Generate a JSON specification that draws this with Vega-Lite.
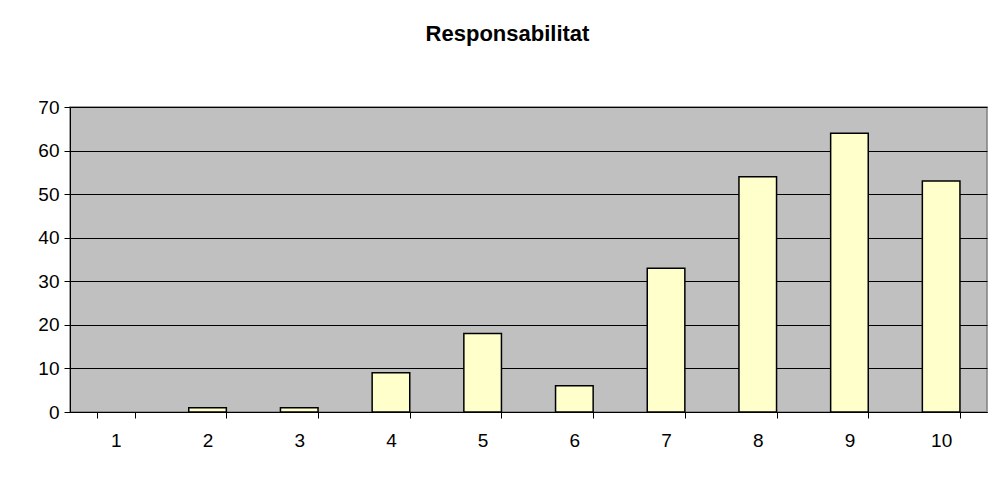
{
  "$schema": "https://vega.github.io/schema/vega-lite/v6.json",
  "width": 917,
  "height": 305,
  "autosize": {"type": "none"},
  "padding": {"left": 70, "top": 107, "right": 12, "bottom": 74},
  "background": "white",
  "title": {
    "text": "Responsabilitat",
    "font": "Liberation Sans",
    "fontSize": 22,
    "fontWeight": "bold",
    "color": "black",
    "anchor": "middle",
    "frame": "group",
    "dx": -21,
    "offset": 52
  },
  "data": {
    "values": [
      {"score": "1", "count": 0},
      {"score": "2", "count": 1},
      {"score": "3", "count": 1},
      {"score": "4", "count": 9},
      {"score": "5", "count": 18},
      {"score": "6", "count": 6},
      {"score": "7", "count": 33},
      {"score": "8", "count": 54},
      {"score": "9", "count": 64},
      {"score": "10", "count": 53}
    ]
  },
  "mark": {"type": "bar", "fill": "#FFFFCC", "stroke": "black", "strokeWidth": 1.5},
  "encoding": {
    "x": {
      "field": "score",
      "type": "ordinal",
      "sort": null,
      "scale": {"paddingInner": 0.59, "paddingOuter": 0.295},
      "axis": {
        "title": null,
        "labelAngle": 0,
        "labelFont": "Liberation Sans",
        "labelFontSize": 19,
        "labelColor": "black",
        "labelPadding": 13,
        "ticks": true,
        "tickBand": "extent",
        "tickSize": 6,
        "tickWidth": 1,
        "tickColor": "black",
        "domainColor": "black",
        "grid": false
      }
    },
    "y": {
      "field": "count",
      "type": "quantitative",
      "scale": {"domain": [0, 70], "nice": false},
      "axis": {
        "title": null,
        "values": [0, 10, 20, 30, 40, 50, 60, 70],
        "labelFont": "Liberation Sans",
        "labelFontSize": 19,
        "labelColor": "black",
        "labelPadding": 5,
        "tickSize": 6,
        "tickColor": "black",
        "domainColor": "black",
        "grid": true,
        "gridColor": "black",
        "gridOpacity": 1,
        "gridWidth": 1
      }
    },
    "strokeOpacity": {
      "condition": {"test": "datum.count > 0", "value": 1},
      "value": 0
    },
    "fillOpacity": {
      "condition": {"test": "datum.count > 0", "value": 1},
      "value": 0
    }
  },
  "config": {
    "view": {"fill": "#C0C0C0", "stroke": "#808080", "strokeWidth": 1.5}
  }
}
